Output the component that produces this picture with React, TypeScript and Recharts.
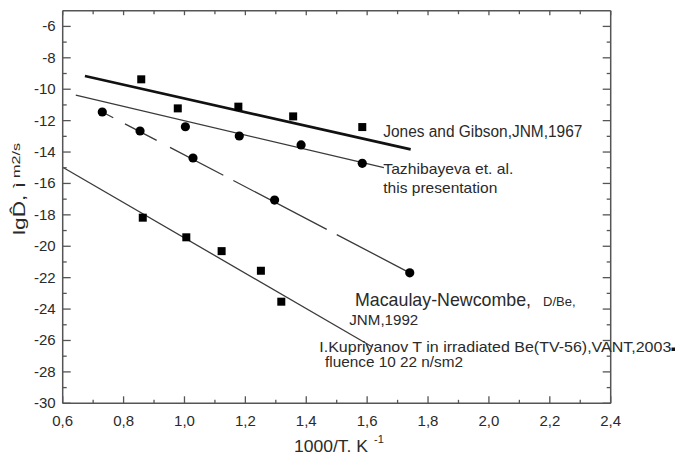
import { ComposedChart, Line, Scatter, XAxis, YAxis } from "recharts";

// measured points
const jonesPoints = [
  { x: 0.858, y: -9.37 },
  { x: 0.978, y: -11.22 },
  { x: 1.177, y: -11.11 },
  { x: 1.357, y: -11.73 },
  { x: 1.584, y: -12.41 },
];
const tazhPoints = [
  { x: 1.003, y: -12.39 },
  { x: 1.18, y: -12.98 },
  { x: 1.383, y: -13.55 },
  { x: 1.584, y: -14.72 },
];
const macaulayPoints = [
  { x: 0.73, y: -11.45 },
  { x: 0.854, y: -12.66 },
  { x: 1.028, y: -14.38 },
  { x: 1.296, y: -17.06 },
  { x: 1.74, y: -21.69 },
];
const kupriyanovPoints = [
  { x: 0.863, y: -18.18 },
  { x: 1.006, y: -19.43 },
  { x: 1.122, y: -20.31 },
  { x: 1.251, y: -21.56 },
  { x: 1.318, y: -23.53 },
];

// fitted lines (end points)
const jonesFit = [
  { x: 0.673, y: -9.16 },
  { x: 1.743, y: -13.83 },
];
const tazhFit = [
  { x: 0.643, y: -10.37 },
  { x: 1.655, y: -15.0 },
];
const macaulayFit = [
  { x: 0.73, y: -11.45 },
  { x: 1.74, y: -21.69 },
];
const kupriyanovFit = [
  { x: 0.6, y: -14.97 },
  { x: 1.616, y: -26.4 },
];

const xTicks = [0.6, 0.7, 0.8, 0.9, 1.0, 1.1, 1.2, 1.3, 1.4, 1.5, 1.6, 1.7, 1.8, 1.9, 2.0, 2.1, 2.2, 2.3, 2.4];
const yTicks = [-30, -29, -28, -27, -26, -25, -24, -23, -22, -21, -20, -19, -18, -17, -16, -15, -14, -13, -12, -11, -10, -9, -8, -7, -6];

const FONT = "'Liberation Sans', Arial, sans-serif";
const AXIS = "#555";
const INK = "#2a2a2a";

const isMajorX = (v: number) => Math.round(v * 10) % 2 === 0;
const isMajorY = (v: number) => Math.round(v) % 2 === 0;
const fmtX = (v: number) => v.toFixed(1).replace(".", ",");

const BottomTick = (props: any) => {
  const { x, y, payload } = props;
  const major = isMajorX(payload.value);
  return (
    <g>
      <line x1={x} x2={x} y1={y} y2={y - (major ? 7 : 3.5)} stroke={AXIS} strokeWidth={1.3} />
      {major && (
        <text x={x} y={y + 23} textAnchor="middle" fontSize={15} fontFamily={FONT} fill={INK}>
          {fmtX(payload.value)}
        </text>
      )}
    </g>
  );
};

const TopTick = (props: any) => {
  const { x, y, payload } = props;
  const major = isMajorX(payload.value);
  return <line x1={x} x2={x} y1={y} y2={y + (major ? 4.5 : 3.5)} stroke={AXIS} strokeWidth={1.3} />;
};

const LeftTick = (props: any) => {
  const { x, y, payload } = props;
  const major = isMajorY(payload.value);
  return (
    <g>
      <line x1={x} x2={x + (major ? 8 : 4)} y1={y} y2={y} stroke={AXIS} strokeWidth={1.3} />
      {major && (
        <text x={x - 7} y={y + 5} textAnchor="end" fontSize={15} fontFamily={FONT} fill={INK}>
          {payload.value}
        </text>
      )}
    </g>
  );
};

const RightTick = (props: any) => {
  const { x, y, payload } = props;
  const major = isMajorY(payload.value);
  return <line x1={x} x2={x - (major ? 8 : 4)} y1={y} y2={y} stroke={AXIS} strokeWidth={1.3} />;
};

const squareShape = (p: any) => <rect x={p.cx - 4} y={p.cy - 4} width={8} height={8} fill="#000" />;
const circleShape = (p: any) => <circle cx={p.cx} cy={p.cy} r={4.6} fill="#000" />;

const axisLine = { stroke: AXIS, strokeWidth: 1.5 };

export default function App() {
  return (
    <div style={{ position: "absolute", left: 0, top: 0, width: 679, height: 458, background: "#fff" }}>
      <ComposedChart
        width={679}
        height={458}
        margin={{ top: 9.7, right: 67.3, bottom: 53.7, left: 61.7 }}
      >
        <XAxis
          type="number"
          dataKey="x"
          domain={[0.6, 2.4]}
          allowDataOverflow
          ticks={xTicks}
          interval={0}
          height={1}
          tickLine={false}
          tickSize={0}
          tickMargin={0}
          axisLine={axisLine}
          tick={BottomTick}
        />
        <XAxis
          xAxisId="top"
          orientation="top"
          type="number"
          dataKey="x"
          domain={[0.6, 2.4]}
          allowDataOverflow
          ticks={xTicks}
          interval={0}
          height={1}
          tickLine={false}
          tickSize={0}
          tickMargin={0}
          axisLine={axisLine}
          tick={TopTick}
        />
        <YAxis
          type="number"
          dataKey="y"
          domain={[-30, -5]}
          allowDataOverflow
          ticks={yTicks}
          interval={0}
          width={1}
          tickLine={false}
          tickSize={0}
          tickMargin={0}
          axisLine={axisLine}
          tick={LeftTick}
        />
        <YAxis
          yAxisId="right"
          orientation="right"
          type="number"
          dataKey="y"
          domain={[-30, -5]}
          allowDataOverflow
          ticks={yTicks}
          interval={0}
          width={1}
          tickLine={false}
          tickSize={0}
          tickMargin={0}
          axisLine={axisLine}
          tick={RightTick}
        />

        <Line data={jonesFit} dataKey="y" stroke="#111" strokeWidth={2.6} dot={false} isAnimationActive={false} />
        <Line data={tazhFit} dataKey="y" stroke="#3a3a3a" strokeWidth={1.3} dot={false} isAnimationActive={false} />
        <Line
          data={macaulayFit}
          dataKey="y"
          stroke="#3a3a3a"
          strokeWidth={1.3}
          strokeDasharray="12.4 13.2 35.8 15 60.2 11.3 105.4 11.3 90"
          dot={false}
          isAnimationActive={false}
        />
        <Line data={kupriyanovFit} dataKey="y" stroke="#3a3a3a" strokeWidth={1.3} dot={false} isAnimationActive={false} />

        <Scatter data={jonesPoints} dataKey="y" shape={squareShape} isAnimationActive={false} />
        <Scatter data={tazhPoints} dataKey="y" shape={circleShape} isAnimationActive={false} />
        <Scatter data={macaulayPoints} dataKey="y" shape={circleShape} isAnimationActive={false} />
        <Scatter data={kupriyanovPoints} dataKey="y" shape={squareShape} isAnimationActive={false} />
      </ComposedChart>

      <svg
        width={679}
        height={458}
        style={{ position: "absolute", left: 0, top: 0, pointerEvents: "none" }}
        fontFamily={FONT}
        fill={INK}
      >
        <text x={383.3} y={137} fontSize={16} textLength={199} lengthAdjust="spacingAndGlyphs">
          Jones and Gibson,JNM,1967
        </text>
        <text x={383.3} y={174} fontSize={15} textLength={130} lengthAdjust="spacingAndGlyphs">
          Tazhibayeva et. al.
        </text>
        <text x={383.3} y={193.3} fontSize={15} textLength={114} lengthAdjust="spacingAndGlyphs">
          this presentation
        </text>
        <text x={355} y={305.7} fontSize={19} textLength={176} lengthAdjust="spacingAndGlyphs">
          Macaulay-Newcombe,
        </text>
        <text x={543} y={305.7} fontSize={13}>
          D/Be,
        </text>
        <text x={349.3} y={325} fontSize={15} textLength={69} lengthAdjust="spacingAndGlyphs">
          JNM,1992
        </text>
        <text x={319.3} y={351.7} fontSize={15} textLength={352} lengthAdjust="spacingAndGlyphs">
          I.Kupriyanov T in irradiated Be(TV-56),VANT,2003
        </text>
        <rect x={671.5} y={347.5} width={3.5} height={3.5} fill="#111" />
        <text x={325} y={367} fontSize={15} textLength={138} lengthAdjust="spacingAndGlyphs">
          fluence 10 22 n/sm2
        </text>

        <text x={294} y={452} fontSize={16} textLength={74} lengthAdjust="spacingAndGlyphs">
          1000/T. K
        </text>
        <text x={374} y={443} fontSize={11}>
          -1
        </text>

        <text x={25} y={235} fontSize={16} transform="rotate(-90 25 235)" textLength={53} lengthAdjust="spacingAndGlyphs">
          lgD̂, ì
        </text>
        <text x={20} y={178} fontSize={11} transform="rotate(-90 20 178)" textLength={35} lengthAdjust="spacingAndGlyphs">
          m2/s
        </text>
      </svg>
    </div>
  );
}
